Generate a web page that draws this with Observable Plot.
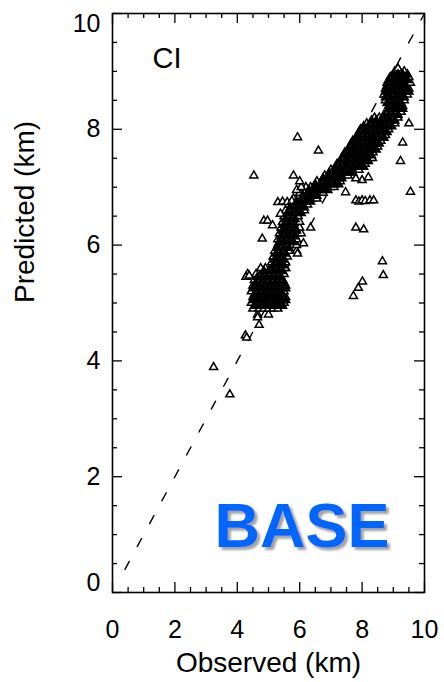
<!DOCTYPE html>
<html>
<head>
<meta charset="utf-8">
<script src="https://cdn.jsdelivr.net/npm/d3@7"></script>
<script src="https://cdn.jsdelivr.net/npm/@observablehq/plot@0.6"></script>
<style>
  html, body { margin: 0; padding: 0; background: #fff; }
  svg { display: block; }
</style>
</head>
<body>
<div id="chart"></div>
<script>
// Dense band: each row = [predicted (km), observed values (km) at that predicted level]
const bandRowsMain = [
  [4.8,  [4.65, 5.0]],
  [4.9,  [4.5, 4.7, 4.85, 5.0, 5.15, 5.3]],
  [5.0,  [4.45, 4.6, 4.75, 4.9, 5.05, 5.2, 5.35, 5.5]],
  [5.1,  [4.5, 4.65, 4.8, 4.95, 5.1, 5.25, 5.4, 5.55]],
  [5.2,  [4.45, 4.6, 4.75, 4.9, 5.05, 5.2, 5.35, 5.5]],
  [5.3,  [4.5, 4.65, 4.8, 4.95, 5.1, 5.25, 5.4, 5.55]],
  [5.4,  [4.55, 4.7, 4.85, 5.0, 5.15, 5.3, 5.45]],
  [5.5,  [4.6, 4.75, 4.9, 5.05, 5.2, 5.35, 5.5]],
  [5.6,  [4.75, 4.9, 5.1, 5.25, 5.4, 5.55]],
  [5.7,  [5.1, 5.25, 5.4, 5.55]],
  [5.8,  [5.15, 5.3, 5.45, 5.6]],
  [5.9,  [5.2, 5.35, 5.5, 5.65, 5.9]],
  [6.0,  [5.3, 5.45, 5.6, 5.75, 5.9]],
  [6.1,  [5.3, 5.45, 5.6, 5.75, 5.9]],
  [6.2,  [5.35, 5.5, 5.65, 5.8, 5.95, 6.05]],
  [6.3,  [5.4, 5.55, 5.7, 5.85, 6.0]],
  [6.4,  [5.45, 5.6, 5.75, 5.9, 6.0]],
  [6.5,  [5.5, 5.65, 5.8, 5.95]],
  [6.6,  [5.55, 5.7, 5.85, 6.0, 6.15]],
  [6.7,  [5.65, 5.8, 5.95, 6.1, 6.25]],
  [6.8,  [5.8, 5.95, 6.1, 6.25, 6.4, 6.55]],
  [6.9,  [6.0, 6.15, 6.3, 6.45, 6.6, 6.75]],
  [7.0,  [6.2, 6.35, 6.5, 6.65, 6.8, 6.95, 7.1]],
  [7.1,  [6.55, 6.7, 6.85, 7.0, 7.15, 7.3]],
  [7.2,  [6.8, 6.95, 7.1, 7.25, 7.4, 7.55]],
  [7.3,  [7.0, 7.15, 7.3, 7.45, 7.6, 7.75, 7.9]],
  [7.4,  [7.2, 7.35, 7.5, 7.65, 7.8, 7.95, 8.1]],
  [7.5,  [7.35, 7.5, 7.65, 7.8, 7.95, 8.1, 8.25]],
  [7.6,  [7.45, 7.6, 7.75, 7.9, 8.05, 8.2, 8.35]],
  [7.7,  [7.6, 7.75, 7.9, 8.05, 8.2, 8.35, 8.5]],
  [7.8,  [7.7, 7.85, 8.0, 8.15, 8.3, 8.45, 8.6]],
  [7.9,  [7.85, 8.0, 8.15, 8.3, 8.45, 8.6, 8.75]],
  [8.0,  [7.95, 8.1, 8.25, 8.4, 8.55, 8.7, 8.85]],
  [8.1,  [8.15, 8.3, 8.45, 8.6, 8.75, 8.9, 9.05]],
  [8.2,  [8.4, 8.55, 8.7, 8.85, 9.0, 9.15]],
  [8.3,  [8.8, 8.95, 9.1, 9.25]],
  [8.4,  [8.85, 9.0, 9.15, 9.3]],
  [8.5,  [8.75, 8.9, 9.05, 9.2, 9.35]],
  [8.6,  [8.7, 8.85, 9.0, 9.15, 9.3, 9.45]],
  [8.7,  [8.75, 8.9, 9.05, 9.2, 9.35, 9.5]],
  [8.8,  [8.8, 8.95, 9.1, 9.25, 9.4, 9.55]],
  [8.9,  [8.9, 9.05, 9.2, 9.35, 9.5]],
  [9.0,  [9.05, 9.2, 9.35]],
  [9.05, [9.15]]
];

// In-between rows of the dense band (overlapping so the band reads as solid black)
const bandRowsMid = [
  [4.95, [4.55, 4.7, 4.85, 5.0, 5.15, 5.3, 5.45]],
  [5.05, [4.5, 4.65, 4.8, 4.95, 5.1, 5.25, 5.4, 5.55]],
  [5.15, [4.55, 4.7, 4.85, 5.0, 5.15, 5.3, 5.45]],
  [5.25, [4.5, 4.65, 4.8, 4.95, 5.1, 5.25, 5.4, 5.55]],
  [5.35, [4.6, 4.75, 4.9, 5.05, 5.2, 5.35, 5.5]],
  [5.45, [4.65, 4.8, 4.95, 5.1, 5.25, 5.4]],
  [5.55, [4.85, 5.0, 5.15, 5.3, 5.45]],
  [5.65, [5.15, 5.3, 5.45]],
  [5.75, [5.2, 5.35, 5.5]],
  [5.85, [5.25, 5.4, 5.55]],
  [5.95, [5.3, 5.5, 5.65]],
  [6.05, [5.35, 5.5, 5.65, 5.8]],
  [6.15, [5.4, 5.55, 5.7, 5.85]],
  [6.25, [5.45, 5.6, 5.75, 5.9]],
  [6.35, [5.5, 5.65, 5.8]],
  [6.45, [5.55, 5.7, 5.85]],
  [6.55, [5.6, 5.75, 5.9, 6.05]],
  [6.65, [5.7, 5.85, 6.0, 6.15]],
  [6.75, [5.9, 6.05, 6.2, 6.35]],
  [6.85, [6.1, 6.25, 6.4, 6.55]],
  [6.95, [6.3, 6.45, 6.6, 6.75, 6.9]],
  [7.05, [6.5, 6.65, 6.8, 6.95, 7.1, 7.25]],
  [7.15, [6.75, 6.9, 7.05, 7.2, 7.35]],
  [7.25, [6.95, 7.1, 7.25, 7.4, 7.55, 7.7]],
  [7.35, [7.15, 7.3, 7.45, 7.6, 7.75, 7.9, 8.05]],
  [7.45, [7.3, 7.45, 7.6, 7.75, 7.9, 8.05, 8.2]],
  [7.55, [7.4, 7.55, 7.7, 7.85, 8.0, 8.15, 8.3]],
  [7.65, [7.55, 7.7, 7.85, 8.0, 8.15, 8.3, 8.45]],
  [7.75, [7.65, 7.8, 7.95, 8.1, 8.25, 8.4, 8.55]],
  [7.85, [7.8, 7.95, 8.1, 8.25, 8.4, 8.55, 8.7]],
  [7.95, [7.9, 8.05, 8.2, 8.35, 8.5, 8.65, 8.8]],
  [8.05, [8.05, 8.2, 8.35, 8.5, 8.65, 8.8, 8.95]],
  [8.15, [8.3, 8.45, 8.6, 8.75, 8.9, 9.05]],
  [8.25, [8.7, 8.85, 9.0, 9.15]],
  [8.35, [8.85, 9.0, 9.15, 9.3]],
  [8.45, [8.8, 8.95, 9.1, 9.25]],
  [8.55, [8.75, 8.9, 9.05, 9.2, 9.35]],
  [8.65, [8.75, 8.9, 9.05, 9.2, 9.35, 9.5]],
  [8.75, [8.8, 8.95, 9.1, 9.25, 9.4]],
  [8.85, [8.85, 9.0, 9.15, 9.3, 9.45]],
  [8.95, [9.0, 9.15, 9.3, 9.45]]
];

// Scattered individual points
const outlierObserved  = [4.53, 5.93, 6.6, 5.8, 4.8, 4.85, 4.97, 5.13, 5.38, 5.32, 6.12, 6.35, 5.93, 5.38, 5.54,
                          4.33, 4.28, 4.38, 4.26, 4.3, 3.24, 3.76, 7.47, 7.8, 7.9, 8.0, 8.1, 8.25, 8.37, 7.8,
                          8.05, 8.65, 8.68, 8.01, 7.88, 7.72, 9.55, 9.23, 9.3, 9.5, 8.0, 8.2, 7.8, 8.33, 8.0,
                          4.65, 4.7, 5.3, 5.45, 5.6, 5.75, 5.9, 6.05, 6.0];
const outlierPredicted = [7.2, 7.86, 7.63, 7.2, 6.11, 6.42, 6.42, 6.34, 6.54, 6.03, 6.03, 6.3, 5.85, 5.04, 5.6,
                          5.5, 5.45, 5.47, 4.44, 4.4, 3.89, 3.42, 6.91, 6.77, 6.75, 6.77, 6.76, 6.77, 6.77, 6.3,
                          6.27, 5.72, 5.48, 5.37, 5.26, 5.12, 6.92, 7.45, 7.77, 8.1, 7.12, 7.17, 7.15, 7.5, 7.5,
                          4.75, 4.62, 6.74, 6.75, 6.74, 6.76, 6.95, 7.0, 7.1];

// 1:1 reference line
const lineObserved  = [0.4, 10];
const linePredicted = [0.4, 10];

const majorTicks = [0, 2, 4, 6, 8, 10];
const minorTicks = [0.5, 1, 1.5, 2.5, 3, 3.5, 4.5, 5, 5.5, 6.5, 7, 7.5, 8.5, 9, 9.5];

const mainPts = [];
for (const [p, obsList] of bandRowsMain) for (const o of obsList) mainPts.push({o, p});
outlierObserved.forEach((o, i) => mainPts.push({o, p: outlierPredicted[i]}));
const midPts = [];
for (const [p, obsList] of bandRowsMid) for (const o of obsList) midPts.push({o, p});
const diag = lineObserved.map((o, i) => ({o, p: linePredicted[i]}));

const W = 444, H = 682;
const mL = 112, mR = 20, mT = 13, mB = 90;
const fw = W - mL - mR, fh = H - mT - mB;
const font = "'Liberation Sans', Arial, Helvetica, sans-serif";
const fmt = d => String(d);

const chart = Plot.plot({
  width: W,
  height: H,
  marginLeft: mL,
  marginRight: mR,
  marginTop: mT,
  marginBottom: mB,
  style: {fontFamily: font, background: "#fff", color: "#000"},
  x: {domain: [0, 10], label: null},
  y: {domain: [0, 10], label: null},
  marks: [
    Plot.line(diag, {x: "o", y: "p", stroke: "#000", strokeWidth: 1.4, strokeDasharray: "9,17"}),
    Plot.dot(mainPts, {x: "o", y: "p", symbol: "triangle", r: 3.0, fill: "#fff", stroke: "#000", strokeWidth: 1.5}),
    Plot.dot(midPts, {x: "o", y: "p", symbol: "triangle", r: 3.0, fill: "#000", stroke: "#000", strokeWidth: 1.5}),
    Plot.ruleX(majorTicks, {x: d => d, insetTop: fh - 10, stroke: "#000", strokeWidth: 1.3}),
    Plot.ruleX(majorTicks, {x: d => d, insetBottom: fh - 10, stroke: "#000", strokeWidth: 1.3}),
    Plot.ruleY(majorTicks, {y: d => d, insetRight: fw - 10, stroke: "#000", strokeWidth: 1.3}),
    Plot.ruleY(majorTicks, {y: d => d, insetLeft: fw - 10, stroke: "#000", strokeWidth: 1.3}),
    Plot.ruleX(minorTicks, {x: d => d, insetTop: fh - 5, stroke: "#000", strokeWidth: 1.3}),
    Plot.ruleX(minorTicks, {x: d => d, insetBottom: fh - 5, stroke: "#000", strokeWidth: 1.3}),
    Plot.ruleY(minorTicks, {y: d => d, insetRight: fw - 5, stroke: "#000", strokeWidth: 1.3}),
    Plot.ruleY(minorTicks, {y: d => d, insetLeft: fw - 5, stroke: "#000", strokeWidth: 1.3}),
    Plot.frame({stroke: "#000", strokeWidth: 1.6}),
    Plot.axisX(majorTicks, {anchor: "bottom", tickSize: 0, tickPadding: 28, fontSize: 25, tickFormat: fmt, label: null}),
    Plot.axisY([2, 4, 6, 8], {anchor: "left", tickSize: 0, tickPadding: 12, fontSize: 25, tickFormat: fmt, label: null}),
    Plot.axisY([10], {anchor: "left", tickSize: 0, tickPadding: 12, fontSize: 25, dy: 10, tickFormat: fmt, label: null}),
    Plot.axisY([0], {anchor: "left", tickSize: 0, tickPadding: 12, fontSize: 25, dy: -10, tickFormat: fmt, label: null}),
    Plot.text(["Observed (km)"], {frameAnchor: "bottom", dy: 71, fontSize: 28, lineAnchor: "middle"}),
    Plot.text(["Predicted (km)"], {frameAnchor: "left", dx: -87, rotate: -90, fontSize: 28, lineAnchor: "middle"}),
    Plot.text(["CI"], {frameAnchor: "top-left", dx: 40, dy: 45, fontSize: 29, textAnchor: "start", lineAnchor: "middle"}),
    Plot.text(["BASE"], {frameAnchor: "bottom-right", dx: -35, dy: -66, fontSize: 63, fontWeight: "bold", fill: "#0066ff", textAnchor: "end", lineAnchor: "middle", className: "base-stamp"})
  ]
});

// soft grey drop shadow behind the BASE stamp
const svg = d3.select(chart);
const defs = svg.insert("defs", ":first-child");
const f = defs.append("filter").attr("id", "baseShadow").attr("x", "-10%").attr("y", "-10%").attr("width", "130%").attr("height", "140%");
f.append("feDropShadow").attr("dx", 3).attr("dy", 3).attr("stdDeviation", 0.8).attr("flood-color", "#999").attr("flood-opacity", 0.9);
svg.selectAll("g.base-stamp text").attr("filter", "url(#baseShadow)");

document.getElementById("chart").appendChild(chart);
</script>
</body>
</html>
